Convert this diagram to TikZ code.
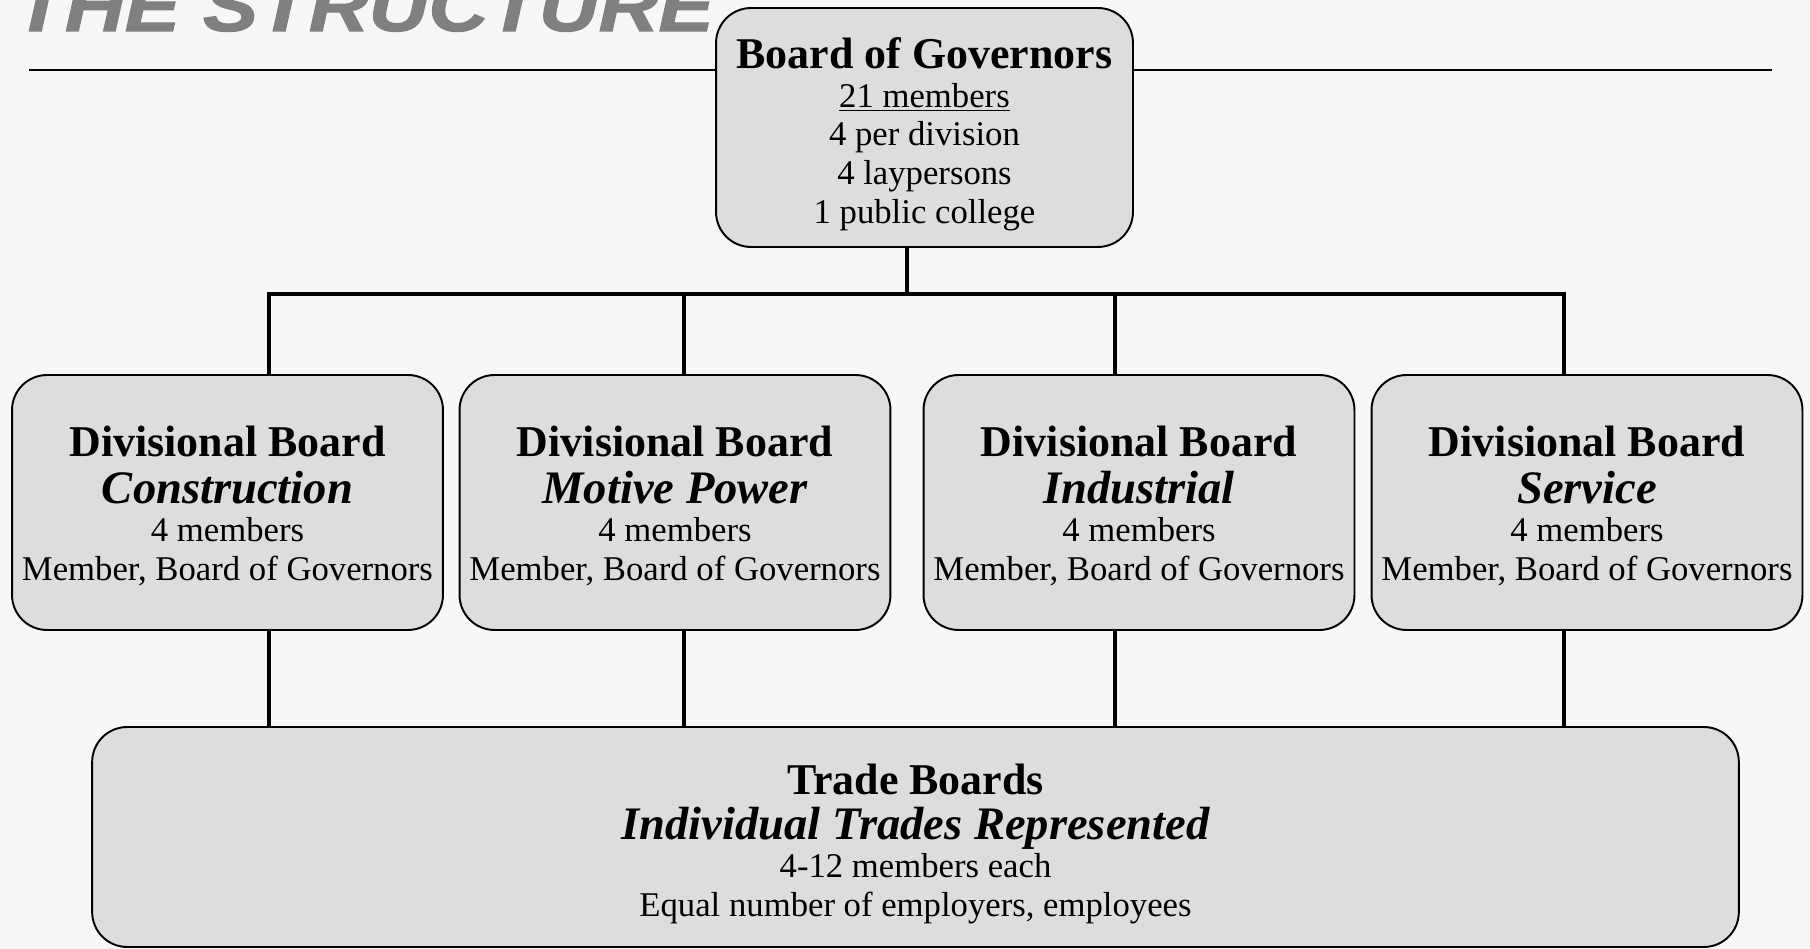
\documentclass[tikz,border=0pt]{standalone}
\usepackage{fontspec}
\setmainfont{Liberation Serif}
\setsansfont{Liberation Sans}
\newfontfamily\titlefont[FakeBold=1.5]{Liberation Sans}
\usepackage{graphicx}
\usepackage{tikz}
\usetikzlibrary{calc}
\definecolor{pagegray}{RGB}{247,247,247}
\definecolor{boxgray}{RGB}{221,221,221}
\definecolor{titlegray}{RGB}{128,128,128}
\tikzset{board/.style={draw=black, line width=1.1pt, fill=boxgray, rounded corners=0.7cm, inner sep=0pt, align=center, font=\fontsize{19.75}{22}\selectfont}}
\tikzset{link/.style={black, line width=2.6pt}}
\newcommand{\hd}[2]{{\fontsize{25}{22}\selectfont\bfseries\rule{0pt}{#1}#2}}
\newcommand{\dv}[1]{{\fontsize{26.5}{22}\selectfont\bfseries\itshape #1}}

\begin{document}
\begin{tikzpicture} [x=0.02cm, y=-0.02cm]
\fill[pagegray] (0,0) rectangle (1810,949);
\useasboundingbox (0,0) rectangle (1810,949);
\node[anchor=base west, inner sep=0pt, text=titlegray, font=\fontsize{41}{41}\selectfont\titlefont\bfseries\itshape] (title) at (14,31) {\scalebox{1.15}[1]{THE STRUCTURE}};
\draw[black, line width=1.5pt] (29,70) -- (1772,70);

\node[board, minimum width=8.34cm, minimum height=4.78cm] (gov) at (924.5,127.5) {\hd{25pt}{Board of Governors}\\ \underline{21 members}\\ 4 per division\\ 4 laypersons\\ 1 public college};

\node[board, minimum width=8.62cm, minimum height=5.1cm] (con) at (227.5,502.5) {\hd{21pt}{Divisional Board}\\[4.7pt] \dv{Construction}\\[-0.2pt] 4 members\\ Member, Board of Governors};
\node[board, minimum width=8.62cm, minimum height=5.1cm] (mot) at (675,502.5) {\hd{21pt}{Divisional Board}\\[4.7pt] \dv{Motive Power}\\[-0.2pt] 4 members\\ Member, Board of Governors};
\node[board, minimum width=8.62cm, minimum height=5.1cm] (ind) at (1139,502.5) {\hd{21pt}{Divisional Board}\\[4.7pt] \dv{Industrial}\\[-0.2pt] 4 members\\ Member, Board of Governors};
\node[board, minimum width=8.62cm, minimum height=5.1cm] (ser) at (1587,502.5) {\hd{21pt}{Divisional Board}\\[4.7pt] \dv{Service}\\[-0.2pt] 4 members\\ Member, Board of Governors};

\node[board, minimum width=32.94cm, minimum height=4.4cm] (trade) at (915.5,837) {\hd{25pt}{Trade Boards}\\[3.4pt] \dv{Individual Trades Represented}\\[-0.2pt] 4-12 members each\\ Equal number of employers, employees};

\coordinate (bus) at (907,294);
\coordinate (b1) at (269,294);
\coordinate (b2) at (684,294);
\coordinate (b3) at (1115,294);
\coordinate (b4) at (1564,294);
\draw[link] (bus |- gov.south) -- (bus);
\draw[link] (b1 |- con.north) -- (b1) -- (b4) -- (b4 |- ser.north);
\draw[link] (b2) -- (b2 |- mot.north);
\draw[link] (b3) -- (b3 |- ind.north);
\draw[link] (b1 |- con.south) -- (b1 |- trade.north);
\draw[link] (b2 |- mot.south) -- (b2 |- trade.north);
\draw[link] (b3 |- ind.south) -- (b3 |- trade.north);
\draw[link] (b4 |- ser.south) -- (b4 |- trade.north);
\end{tikzpicture}
\end{document}
